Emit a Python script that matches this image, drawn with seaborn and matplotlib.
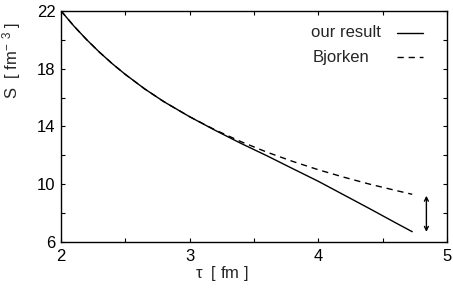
import numpy as np
import pandas as pd
import matplotlib
matplotlib.use("Agg")
import matplotlib.pyplot as plt
import seaborn as sns
from matplotlib.ticker import MultipleLocator, FixedLocator

# values
tau = [2.0, 2.1, 2.2, 2.3, 2.4, 2.5, 2.65, 2.8, 3.0, 3.2, 3.4, 3.6, 3.8, 4.0, 4.2, 4.4, 4.6, 4.73]
s_ours = [22.0, 20.95, 20.0, 19.13, 18.33, 17.6, 16.6, 15.71, 14.67, 13.72, 12.82, 11.97,
          11.08, 10.2, 9.25, 8.3, 7.33, 6.71]
s_bjorken = [22.0, 20.95, 20.0, 19.13, 18.33, 17.6, 16.6, 15.71, 14.67, 13.75, 12.94, 12.22,
             11.58, 11.0, 10.48, 10.0, 9.57, 9.3]
arrow_tau = 4.84
arrow_s = (9.2, 6.7)

df = pd.concat([
    pd.DataFrame({"tau": tau, "S": s_ours, "model": "our result"}),
    pd.DataFrame({"tau": tau, "S": s_bjorken, "model": "Bjorken"}),
], ignore_index=True)

sns.set_style("ticks")
plt.rcParams["font.family"] = ["Liberation Sans", "DejaVu Sans"]
plt.rcParams["mathtext.fontset"] = "custom"
plt.rcParams["mathtext.rm"] = "Liberation Sans"
plt.rcParams["mathtext.it"] = "Liberation Sans"

fig = plt.figure(figsize=(4.53, 2.94), dpi=100)
ax = fig.add_axes([0.1347, 0.177, 0.852, 0.786])

sns.lineplot(data=df, x="tau", y="S", style="model", style_order=["our result", "Bjorken"],
             dashes={"our result": "", "Bjorken": (4.5, 3.5)}, color="black",
             lw=1.0, legend=False, ax=ax, sort=False)

ax.annotate("", xy=(arrow_tau, arrow_s[0]), xytext=(arrow_tau, arrow_s[1]),
            arrowprops=dict(arrowstyle="<->", color="black", lw=1.0,
                            mutation_scale=7, shrinkA=0, shrinkB=0))

ax.set_xlim(2, 5)
ax.set_ylim(6, 22)
ax.xaxis.set_major_locator(MultipleLocator(1))
ax.xaxis.set_minor_locator(MultipleLocator(0.5))
ax.yaxis.set_major_locator(FixedLocator([6, 10, 14, 18, 22]))
ax.yaxis.set_minor_locator(FixedLocator([8, 12, 16, 20]))
ax.tick_params(which="both", direction="in", top=True, right=True, length=3, width=0.8,
               labelsize=12, colors="black")
ax.tick_params(axis="x", pad=5)
ax.tick_params(axis="y", pad=4)
for sp in ax.spines.values():
    sp.set_linewidth(1.0)
    sp.set_color("black")

ax.set_xlabel(r"$\tau$  [ fm ]", fontsize=12)
ax.xaxis.set_label_coords(0.417, -0.095)
ax.set_ylabel(r"S  [ fm$^{-\;\;3}$ ]", fontsize=12)
ax.yaxis.set_label_coords(-0.098, 0.785)

# gnuplot-style key, top right
ax.text(0.83, 0.905, "our result", transform=ax.transAxes, ha="right", va="center", fontsize=12)
ax.plot([0.871, 0.938], [0.905, 0.905], transform=ax.transAxes, color="black", lw=1.0)
ax.text(0.80, 0.80, "Bjorken", transform=ax.transAxes, ha="right", va="center", fontsize=12)
ax.plot([0.871, 0.938], [0.80, 0.80], transform=ax.transAxes, color="black", lw=1.0,
        dashes=(4.5, 3.5))

fig.savefig("out.png", dpi=100)
